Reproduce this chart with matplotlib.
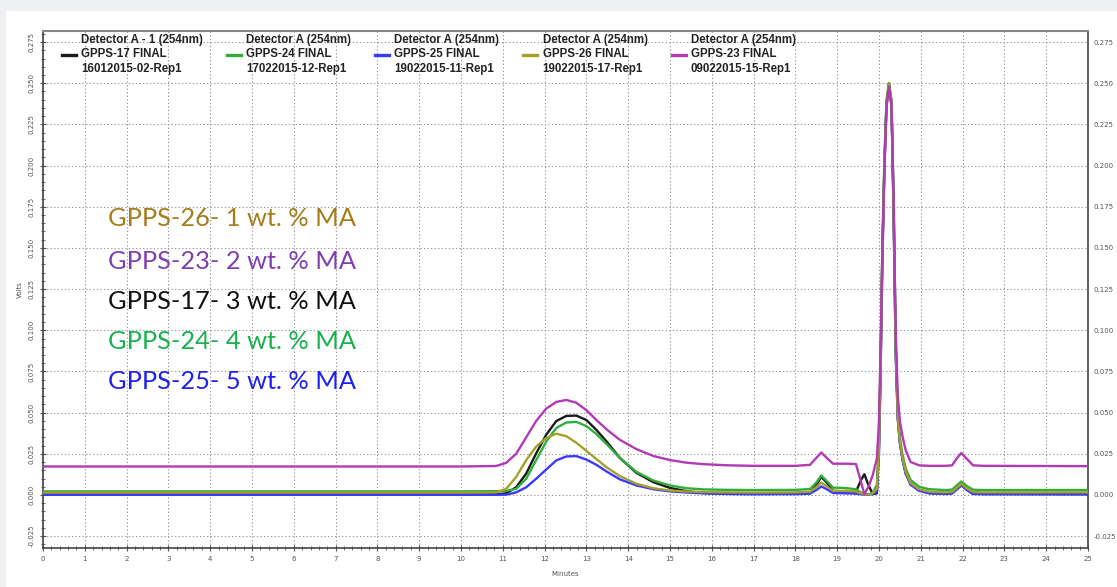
import numpy as np
import matplotlib
matplotlib.use("Agg")
import matplotlib.pyplot as plt
from matplotlib.patches import Rectangle
from matplotlib.ticker import MultipleLocator, FormatStrFormatter

# retention time (minutes) - shared sampling grid
minutes = [0, 10.0, 10.84, 11.08, 11.32, 11.56, 11.8, 12.04, 12.28, 12.52,
           12.76, 13.0, 13.24, 13.5, 13.8, 14.2, 14.6, 15.0, 15.4, 15.8,
           16.4, 17.0, 18.0, 18.35, 18.5, 18.62, 18.75, 18.9, 19.2, 19.45,
           19.57, 19.65, 19.75, 19.85, 19.95, 20.0, 20.04, 20.08, 20.13, 20.18,
           20.24, 20.3, 20.35, 20.4, 20.45, 20.5, 20.56, 20.64, 20.76, 20.96,
           21.2, 21.6, 21.75, 21.87, 21.97, 22.1, 22.25, 22.5, 25.0]

# detector response (volts)
gpps17 = [0.0003, 0.0003, 0.0004, 0.001, 0.0047, 0.013, 0.0253, 0.0366, 0.0449, 0.048,
          0.0482, 0.0455, 0.0395, 0.032, 0.0225, 0.0134, 0.0078, 0.0043, 0.0023, 0.0012,
          0.0007, 0.0006, 0.0008, 0.0012, 0.006, 0.011, 0.0075, 0.0025, 0.0022, 0.002,
          0.009, 0.0126, 0.006, 0.0005, 0.001, 0.03, 0.08, 0.145, 0.2, 0.238,
          0.25, 0.236, 0.17, 0.085, 0.046, 0.032, 0.022, 0.013, 0.0065, 0.003,
          0.0012, 0.0008, 0.0012, 0.004, 0.0062, 0.0035, 0.0008, 0.0006, 0.0005]
gpps24 = [0.0022, 0.0022, 0.0023, 0.0025, 0.0037, 0.0099, 0.0212, 0.0325, 0.0407, 0.044,
          0.0444, 0.0418, 0.037, 0.0305, 0.0225, 0.014, 0.0088, 0.0058, 0.0041, 0.0034,
          0.0031, 0.003, 0.0031, 0.0036, 0.0075, 0.0118, 0.0085, 0.0045, 0.0042, 0.0035,
          0.0015, 0.0005, 0.0005, 0.0015, 0.006, 0.03, 0.085, 0.15, 0.205, 0.24,
          0.25, 0.24, 0.18, 0.095, 0.05, 0.035, 0.025, 0.016, 0.009, 0.005,
          0.0035, 0.003, 0.0033, 0.006, 0.0082, 0.0055, 0.0032, 0.003, 0.003]
gpps25 = [0.0001, 0.0001, 0.0001, 0.0002, 0.0016, 0.0047, 0.0099, 0.0155, 0.021, 0.0234,
          0.0236, 0.0215, 0.0183, 0.014, 0.0095, 0.0058, 0.0035, 0.0022, 0.0015, 0.001,
          0.0006, 0.0005, 0.0005, 0.0008, 0.003, 0.0052, 0.0035, 0.0012, 0.001, 0.0008,
          0.0004, 0.0002, 0.0002, 0.0005, 0.002, 0.025, 0.075, 0.14, 0.198, 0.236,
          0.249, 0.238, 0.175, 0.09, 0.047, 0.032, 0.022, 0.013, 0.0062, 0.0025,
          0.001, 0.0006, 0.0009, 0.0035, 0.0058, 0.003, 0.0006, 0.0005, 0.0004]
gpps26 = [0.0015, 0.0015, 0.0016, 0.0037, 0.0109, 0.0212, 0.0294, 0.0346, 0.0372, 0.0357,
          0.0317, 0.0268, 0.0218, 0.0165, 0.0115, 0.0068, 0.0041, 0.0027, 0.0021, 0.0018,
          0.0016, 0.0015, 0.0016, 0.002, 0.0048, 0.0075, 0.0052, 0.0025, 0.0025, 0.0022,
          0.001, 0.0003, 0.0003, 0.001, 0.004, 0.028, 0.078, 0.142, 0.2, 0.237,
          0.25, 0.238, 0.176, 0.09, 0.048, 0.033, 0.023, 0.014, 0.0072, 0.0035,
          0.002, 0.0016, 0.0019, 0.0045, 0.0068, 0.004, 0.0018, 0.0016, 0.0016]
gpps23 = [0.0173, 0.0173, 0.0176, 0.0195, 0.025, 0.035, 0.045, 0.0525, 0.0565, 0.0577,
          0.056, 0.0515, 0.0455, 0.0395, 0.0335, 0.0278, 0.0237, 0.0212, 0.0196, 0.0187,
          0.018, 0.0177, 0.0177, 0.0183, 0.0225, 0.0258, 0.0225, 0.019, 0.019, 0.0188,
          0.008, 0.0005, 0.005, 0.012, 0.022, 0.045, 0.09, 0.145, 0.198, 0.235,
          0.248, 0.236, 0.18, 0.1, 0.06, 0.045, 0.036, 0.027, 0.02, 0.018,
          0.0177, 0.0177, 0.018, 0.0225, 0.0255, 0.022, 0.018, 0.0177, 0.0175]

series = [gpps17, gpps24, gpps25, gpps26, gpps23]
headers = ["Detector A - 1 (254nm)", "Detector A (254nm)", "Detector A (254nm)",
           "Detector A (254nm)", "Detector A (254nm)"]
names = ["GPPS-17 FINAL", "GPPS-24 FINAL", "GPPS-25 FINAL", "GPPS-26 FINAL", "GPPS-23 FINAL"]
runs = ["16012015-02-Rep1", "17022015-12-Rep1", "19022015-11-Rep1",
        "19022015-17-Rep1", "09022015-15-Rep1"]
line_colors = ["#1a1a1a", "#2fae3a", "#3a3aff", "#a3a02c", "#b23ab2"]

notes = ["GPPS-26- 1 wt. % MA", "GPPS-23- 2 wt. % MA", "GPPS-17- 3 wt. % MA",
         "GPPS-24- 4 wt. % MA", "GPPS-25- 5 wt. % MA"]
note_y = [0.1676, 0.1415, 0.1172, 0.0929, 0.0686]
note_colors = ["#a67c1a", "#7f3fb0", "#111111", "#19b04f", "#2020ee"]

fig = plt.figure(figsize=(11.17, 5.87), dpi=100)
fig.patch.set_facecolor("#eef0f3")
# white panel the screenshot sits on
panel = Rectangle((6 / 1117, 0), 1, 1 - 11 / 587, transform=fig.transFigure,
                  facecolor="white", edgecolor="none", zorder=-10)
fig.add_artist(panel)

ax = fig.add_axes([0.0385, 0.0664, 0.9355, 0.8808])
ax.set_facecolor("white")

t = np.array(minutes)
for vals, col, h, n, r in zip(series, line_colors, headers, names, runs):
    ax.plot(t, vals, color=col, lw=1.7, label=h + "\n" + n + "\n" + r, zorder=3)

ax.set_xlim(0, 25)
ax.set_ylim(-0.0322, 0.2817)

ax.xaxis.set_major_locator(MultipleLocator(1))
ax.xaxis.set_minor_locator(MultipleLocator(0.2))
ax.yaxis.set_major_locator(MultipleLocator(0.025))
ax.yaxis.set_minor_locator(MultipleLocator(0.005))
ax.yaxis.set_major_formatter(FormatStrFormatter("%.3f"))

ax.grid(True, which="major", color="#9a9a9a", linestyle=(0, (1.2, 2)), lw=0.8)
ax.tick_params(which="both", direction="inout", colors="#555555", labelsize=5)
ax.tick_params(which="major", length=5, width=0.8)
ax.tick_params(which="minor", length=3, width=0.6)
ax.tick_params(axis="y", which="both", right=True)
for lab in ax.get_yticklabels():
    lab.set_rotation(90)
    lab.set_va("center")

# right-hand labels stay horizontal
ax2 = ax.twinx()
ax2.set_ylim(ax.get_ylim())
ax2.yaxis.set_major_locator(MultipleLocator(0.025))
ax2.yaxis.set_major_formatter(FormatStrFormatter("%.3f"))
ax2.tick_params(axis="y", colors="#555555", labelsize=5, length=0, pad=4)
for sp in ax2.spines.values():
    sp.set_visible(False)

for side in ["left", "bottom", "right"]:
    ax.spines[side].set_color("#444444")
    ax.spines[side].set_linewidth(1.2)
ax.spines["top"].set_color("#888888")
ax.spines["top"].set_linewidth(1.5)

ax.set_xlabel("Minutes", fontsize=5, color="#555555", labelpad=6)
ax.set_ylabel("Volts", fontsize=5, color="#555555", labelpad=4)

leg = ax.legend(loc="upper left", bbox_to_anchor=(0.017, 0.997), ncol=5, frameon=False,
                prop={"family": "Liberation Sans", "size": 8.3, "weight": "bold"},
                handlelength=1.2, handletextpad=0.45, columnspacing=2.1,
                borderpad=0.1, borderaxespad=0)
for h in leg.get_lines():
    h.set_linewidth(2.4)
for tx in leg.get_texts():
    tx.set_linespacing(1.3)
    tx.set_color("#222222")

for txt, y, c in zip(notes, note_y, note_colors):
    ax.text(1.55, y, txt, color=c, fontsize=18.3, family="Lato", va="center", ha="left",
            zorder=4)

fig.savefig("out.png", dpi=100, facecolor=fig.get_facecolor())
